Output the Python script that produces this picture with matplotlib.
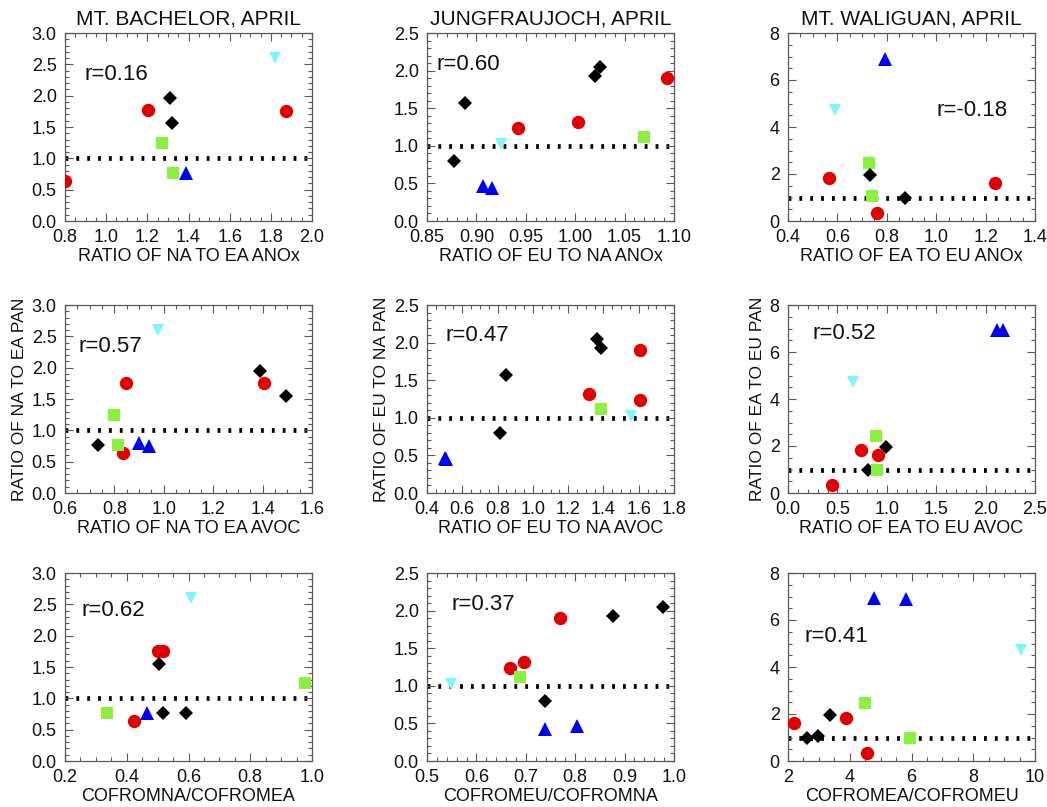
import matplotlib
matplotlib.use('Agg')
import matplotlib.pyplot as plt
from matplotlib.ticker import AutoMinorLocator, MultipleLocator, FormatStrFormatter

plt.rcParams['font.family'] = ['Liberation Sans', 'DejaVu Sans']

# kinds: c = red circle, d = black diamond, s = green square,
#        u = blue triangle up, v = cyan triangle down

# row 1 : PAN ratio vs ANOx ratio
p1_x = [0.80, 1.202, 1.873, 1.311, 1.319, 1.269, 1.324, 1.387, 1.822]
p1_y = [0.64, 1.77, 1.76, 1.96, 1.56, 1.25, 0.76, 0.77, 2.60]
p1_k = ['c', 'c', 'c', 'd', 'd', 's', 's', 'u', 'v']

p2_x = [0.877, 0.888, 0.907, 0.916, 0.925, 0.942, 1.003, 1.020, 1.025, 1.093, 1.070]
p2_y = [0.80, 1.575, 0.46, 0.44, 1.02, 1.24, 1.32, 1.93, 2.05, 1.90, 1.12]
p2_k = ['d', 'd', 'u', 'u', 'v', 'c', 'c', 'd', 'd', 'c', 's']

p3_x = [0.793, 0.592, 0.567, 0.728, 0.734, 0.739, 0.762, 0.872, 1.237]
p3_y = [6.90, 4.72, 1.85, 2.45, 1.96, 1.05, 0.34, 1.00, 1.62]
p3_k = ['u', 'v', 'c', 's', 'd', 's', 'c', 'd', 'c']

# row 2 : PAN ratio vs AVOC ratio
p4_x = [0.978, 0.847, 0.799, 0.735, 0.836, 0.814, 0.901, 0.941, 1.388, 1.404, 1.495]
p4_y = [2.60, 1.75, 1.25, 0.77, 0.64, 0.76, 0.79, 0.75, 1.95, 1.76, 1.55]
p4_k = ['v', 'c', 's', 'd', 'c', 's', 'u', 'u', 'd', 'c', 'd']

p5_x = [0.500, 0.508, 0.812, 0.845, 1.318, 1.365, 1.384, 1.384, 1.554, 1.605, 1.605]
p5_y = [0.46, 0.45, 0.80, 1.575, 1.32, 2.05, 1.93, 1.12, 1.02, 1.90, 1.24]
p5_k = ['u', 'u', 'd', 'd', 'c', 'd', 'd', 's', 'v', 'c', 'c']

p6_x = [2.117, 2.178, 0.654, 0.887, 0.989, 0.735, 0.908, 0.813, 0.905, 0.447]
p6_y = [6.92, 6.92, 4.74, 2.44, 1.96, 1.85, 1.62, 0.98, 1.00, 0.34]
p6_k = ['u', 'u', 'v', 's', 'd', 'c', 'c', 'd', 's', 'c']

# row 3 : PAN ratio vs CO tracer ratio
p7_x = [0.609, 0.501, 0.519, 0.504, 0.337, 0.425, 0.465, 0.519, 0.591, 0.978]
p7_y = [2.60, 1.76, 1.75, 1.55, 0.76, 0.64, 0.77, 0.77, 0.77, 1.25]
p7_k = ['v', 'c', 'c', 'd', 's', 'c', 'u', 'd', 'd', 's']

p8_x = [0.549, 0.668, 0.696, 0.688, 0.769, 0.738, 0.738, 0.803, 0.876, 0.978]
p8_y = [1.02, 1.24, 1.32, 1.12, 1.90, 0.80, 0.43, 0.46, 1.93, 2.05]
p8_k = ['v', 'c', 'c', 's', 'c', 'd', 'u', 'u', 'd', 'd']

p9_x = [2.195, 2.63, 2.976, 3.355, 3.875, 4.49, 4.547, 5.957, 4.786, 5.816, 9.534]
p9_y = [1.62, 0.98, 1.05, 1.96, 1.85, 2.45, 0.34, 1.00, 6.92, 6.90, 4.72]
p9_k = ['c', 'd', 'd', 'd', 'c', 's', 'c', 's', 'u', 'u', 'v']

titles = ['MT. BACHELOR, APRIL', 'JUNGFRAUJOCH, APRIL', 'MT. WALIGUAN, APRIL']
xlabels = ['RATIO OF NA TO EA ANOx', 'RATIO OF EU TO NA ANOx', 'RATIO OF EA TO EU ANOx',
           'RATIO OF NA TO EA AVOC', 'RATIO OF EU TO NA AVOC', 'RATIO OF EA TO EU AVOC',
           'COFROMNA/COFROMEA', 'COFROMEU/COFROMNA', 'COFROMEA/COFROMEU']
ylabels = ['RATIO OF NA TO EA PAN', 'RATIO OF EU TO NA PAN', 'RATIO OF EA TO EU PAN']
r_text = ['r=0.16', 'r=0.60', 'r=-0.18', 'r=0.57', 'r=0.47', 'r=0.52',
          'r=0.62', 'r=0.37', 'r=0.41']
r_pos = [(0.08, 0.78), (0.04, 0.83), (0.60, 0.59), (0.055, 0.78), (0.075, 0.84),
         (0.10, 0.85), (0.065, 0.80), (0.10, 0.83), (0.065, 0.66)]

xlims = [(0.8, 2.0), (0.85, 1.10), (0.4, 1.4), (0.6, 1.6), (0.4, 1.8), (0.0, 2.5),
         (0.2, 1.0), (0.5, 1.0), (2, 10)]
ylims = [(0, 3), (0, 2.5), (0, 8)] * 3
xsteps = [0.2, 0.05, 0.2, 0.2, 0.2, 0.5, 0.2, 0.1, 2]
ysteps = [0.5, 0.5, 2] * 3
xfmt = ['%.1f', '%.2f', '%.1f', '%.1f', '%.1f', '%.1f', '%.1f', '%.1f', '%d']
yfmt = ['%.1f', '%.1f', '%d'] * 3

styles = {
    'c': dict(marker='o', color='#e00000', markersize=9.6),
    'd': dict(marker='D', color='black', markersize=6.8),
    's': dict(marker='s', color='#8cf040', markersize=8.6),
    'u': dict(marker='^', color='#0000f0', markersize=9.6),
    'v': dict(marker='v', color='#80f4ff', markersize=9),
}

panels = [(p1_x, p1_y, p1_k), (p2_x, p2_y, p2_k), (p3_x, p3_y, p3_k),
          (p4_x, p4_y, p4_k), (p5_x, p5_y, p5_k), (p6_x, p6_y, p6_k),
          (p7_x, p7_y, p7_k), (p8_x, p8_y, p8_k), (p9_x, p9_y, p9_k)]

fig = plt.figure(figsize=(10.47, 8.07), dpi=100)
lefts = [65, 427, 788]
tops = [33, 305, 573]
w, h = 247, 188

for i, (xs, ys, ks) in enumerate(panels):
    row, col = divmod(i, 3)
    ax = fig.add_axes([lefts[col] / 1047, 1 - (tops[row] + h) / 807, w / 1047, h / 807])
    ax.axhline(1.0, color='black', lw=3.4, linestyle=(0, (0.6, 1.7)), zorder=1)
    for x, y, k in zip(xs, ys, ks):
        ax.plot([x], [y], linestyle='none', markeredgewidth=0, zorder=3, **styles[k])
    ax.set_xlim(*xlims[i])
    ax.set_ylim(*ylims[i])
    ax.xaxis.set_major_locator(MultipleLocator(xsteps[i]))
    ax.yaxis.set_major_locator(MultipleLocator(ysteps[i]))
    ax.xaxis.set_major_formatter(FormatStrFormatter(xfmt[i]))
    ax.yaxis.set_major_formatter(FormatStrFormatter(yfmt[i]))
    ax.xaxis.set_minor_locator(AutoMinorLocator(4 if xsteps[i] in (0.2, 2) else 5))
    ax.yaxis.set_minor_locator(AutoMinorLocator(5 if ysteps[i] == 0.5 else 4))
    ax.tick_params(which='both', direction='in', top=True, right=True,
                   color='0.35', width=0.8)
    ax.tick_params(which='major', length=6, labelsize=13, pad=6, labelcolor='#111111')
    ax.tick_params(which='minor', length=3)
    for sp in ax.spines.values():
        sp.set_color('0.35')
        sp.set_linewidth(0.9)
    ax.set_xlabel(xlabels[i], fontsize=13, labelpad=1, color='#111111')
    if row == 0:
        ax.set_title(titles[col], fontsize=15, pad=6, color='#111111')
    if row == 1:
        ax.set_ylabel(ylabels[col], fontsize=12.5, labelpad=3, color='#111111')
    ax.text(r_pos[i][0], r_pos[i][1], r_text[i], transform=ax.transAxes,
            fontsize=16, va='center', ha='left', color='#111111')

fig.savefig('out.png', dpi=100)
